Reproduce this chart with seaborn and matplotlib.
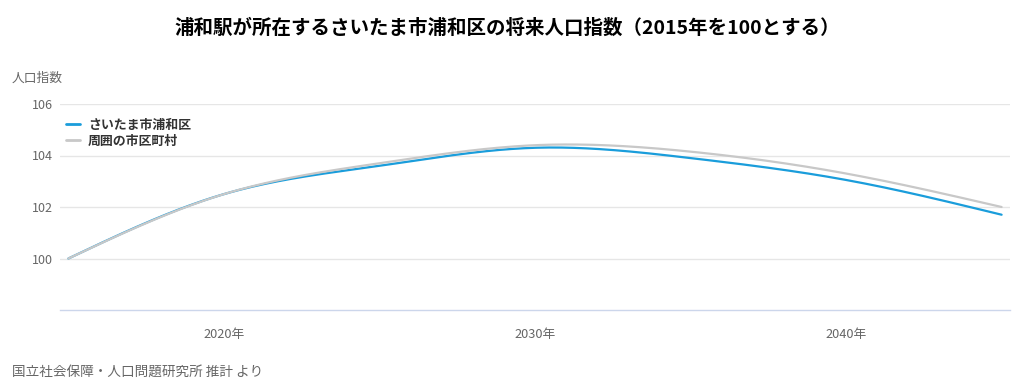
import numpy as np
import pandas as pd
import matplotlib
matplotlib.use("Agg")
import matplotlib.pyplot as plt
import seaborn as sns
from matplotlib.lines import Line2D

years = [2015, 2020, 2025, 2030, 2035, 2040, 2045]
urawa = [100.0, 102.5, 103.6, 104.3, 103.9, 103.05, 101.7]
around = [100.0, 102.5, 103.7, 104.4, 104.15, 103.3, 102.0]
series_names = ["さいたま市浦和区", "周囲の市区町村"]
colors = ["#1a9ddb", "#c8c8c8"]
xtick_years = [2020, 2030, 2040]
xtick_labels = ["2020年", "2030年", "2040年"]
ytick_vals = [100, 102, 104, 106]

sns.set_theme(style="white")
plt.rcParams['font.family'] = ['Noto Sans CJK JP', 'DejaVu Sans']


def spline(x, y, n=300):
    # natural cubic spline, used only to render a smooth line through the points
    x = np.asarray(x, float); y = np.asarray(y, float)
    k = len(x); h = np.diff(x)
    A = np.zeros((k, k)); b = np.zeros(k)
    A[0, 0] = A[-1, -1] = 1
    for i in range(1, k - 1):
        A[i, i - 1] = h[i - 1]; A[i, i] = 2 * (h[i - 1] + h[i]); A[i, i + 1] = h[i]
        b[i] = 6 * ((y[i + 1] - y[i]) / h[i] - (y[i] - y[i - 1]) / h[i - 1])
    M = np.linalg.solve(A, b)
    xs = np.linspace(x[0], x[-1], n)
    idx = np.clip(np.searchsorted(x, xs) - 1, 0, k - 2)
    x0, x1 = x[idx], x[idx + 1]; hh = x1 - x0
    ys = (M[idx] * (x1 - xs) ** 3 / (6 * hh) + M[idx + 1] * (xs - x0) ** 3 / (6 * hh)
          + (y[idx] / hh - M[idx] * hh / 6) * (x1 - xs)
          + (y[idx + 1] / hh - M[idx + 1] * hh / 6) * (xs - x0))
    return xs, ys


fig = plt.figure(figsize=(10.24, 3.92), dpi=100)
ax = fig.add_axes([60 / 1024, 1 - 310 / 392, 950 / 1024, 206 / 392])

for y in ytick_vals:
    ax.axhline(y, color="#e6e6e6", lw=1, zorder=0)

for name, vals, c in zip(series_names, [urawa, around], colors):
    xs, ys = spline(years, vals)
    d = pd.DataFrame({"year": xs, "value": ys})
    sns.lineplot(data=d, x="year", y="value", color=c, lw=1.6, ax=ax, sort=False)

ax.set_xlim(2014.73, 2045.27)
ax.set_ylim(98, 106)
ax.set_xticks(xtick_years)
ax.set_xticklabels(xtick_labels, fontsize=9.2, color="#666666")
ax.set_yticks(ytick_vals)
ax.set_yticklabels([str(v) for v in ytick_vals], fontsize=9, color="#666666")
ax.tick_params(axis="x", length=10, width=1, color="#ccd6eb", pad=3, direction="out")
ax.tick_params(axis="y", length=0, pad=5)
for s in ["top", "right", "left"]:
    ax.spines[s].set_visible(False)
ax.spines["bottom"].set_color("#ccd6eb")
ax.spines["bottom"].set_linewidth(1)
ax.set_xlabel(""); ax.set_ylabel("")

handles = [Line2D([0], [0], color=c, lw=2) for c in colors]
leg = ax.legend(handles, series_names, loc="upper left", bbox_to_anchor=(-0.002, 0.97),
                frameon=False, handlelength=1.1, handletextpad=0.6, labelspacing=0.15,
                prop={"size": 9.3, "weight": "bold"}, borderaxespad=0.2)
for t in leg.get_texts():
    t.set_color("#333333")

fig.text(0.495, 1 - 28 / 392, "浦和駅が所在するさいたま市浦和区の将来人口指数（2015年を100とする）",
         ha="center", va="center", fontsize=14, fontweight="bold", color="#000000")
fig.text(12 / 1024, 1 - 78 / 392, "人口指数", ha="left", va="center", fontsize=9.2, color="#666666")
fig.text(12 / 1024, 1 - 372 / 392, "国立社会保障・人口問題研究所 推計 より", ha="left", va="center",
         fontsize=9.8, color="#666666")

fig.savefig("out.png", dpi=100)
